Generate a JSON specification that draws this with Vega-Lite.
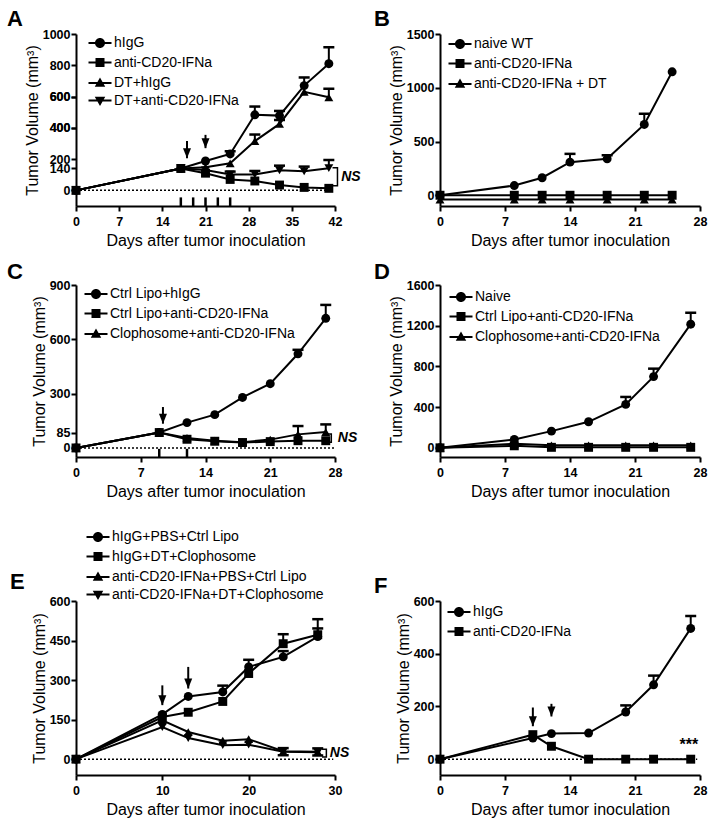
{
"$schema":"https://vega.github.io/schema/vega-lite/v6.json",
"background":"white",
"padding":{"left":7,"top":8,"right":5,"bottom":5},
"bounds":"flush",
"columns":2,
"spacing":{"row":79,"column":105},
"resolve":{"scale":{"shape":"independent","x":"independent","y":"independent"},"legend":{"shape":"independent"},"axis":{"x":"independent","y":"independent"}},
"config":{
 "font":"Liberation Sans",
 "view":{"stroke":null},
 "axis":{"domainColor":"black","domainWidth":2,"tickColor":"black","tickWidth":2,"tickSize":5,"labelFont":"Liberation Sans","labelFontWeight":"bold","labelFontSize":12.5,"labelColor":"black","labelOverlap":false,"labelFlush":false,"titleFont":"Liberation Sans","titleFontWeight":"normal","titleFontSize":16,"titleColor":"black","grid":false},
 "axisX":{"titlePadding":5,"labelPadding":4},
 "axisY":{"titlePadding":2,"labelPadding":1},
 "legend":{"orient":"none","labelFont":"Liberation Sans","labelFontSize":14,"labelColor":"black","labelOffset":7,"labelLimit":400,"rowPadding":1.5,"symbolSize":100,"symbolStrokeWidth":2,"symbolStrokeColor":"black","symbolFillColor":"black","padding":0},
 "title":{"fontSize":22,"fontWeight":"bold","anchor":"start","frame":"group","color":"black","font":"Liberation Sans","baseline":"alphabetic"}
},
"datasets":{
 "A":[
  {"g":"hIgG","day":0,"vol":0},{"g":"hIgG","day":17,"vol":140},{"g":"hIgG","day":21,"vol":188},{"g":"hIgG","day":25,"vol":233},{"g":"hIgG","day":29,"vol":483},{"g":"hIgG","day":33,"vol":478},{"g":"hIgG","day":37,"vol":670},{"g":"hIgG","day":41,"vol":810},
  {"g":"anti-CD20-IFNa","day":0,"vol":0},{"g":"anti-CD20-IFNa","day":17,"vol":140},{"g":"anti-CD20-IFNa","day":21,"vol":110},{"g":"anti-CD20-IFNa","day":25,"vol":70},{"g":"anti-CD20-IFNa","day":29,"vol":60},{"g":"anti-CD20-IFNa","day":33,"vol":34},{"g":"anti-CD20-IFNa","day":37,"vol":19},{"g":"anti-CD20-IFNa","day":41,"vol":13},
  {"g":"DT+hIgG","day":0,"vol":0},{"g":"DT+hIgG","day":17,"vol":140},{"g":"DT+hIgG","day":21,"vol":148},{"g":"DT+hIgG","day":25,"vol":173},{"g":"DT+hIgG","day":29,"vol":315},{"g":"DT+hIgG","day":33,"vol":425},{"g":"DT+hIgG","day":37,"vol":630},{"g":"DT+hIgG","day":41,"vol":595},
  {"g":"DT+anti-CD20-IFNa","day":0,"vol":0},{"g":"DT+anti-CD20-IFNa","day":17,"vol":140},{"g":"DT+anti-CD20-IFNa","day":21,"vol":130},{"g":"DT+anti-CD20-IFNa","day":25,"vol":102},{"g":"DT+anti-CD20-IFNa","day":29,"vol":102},{"g":"DT+anti-CD20-IFNa","day":33,"vol":128},{"g":"DT+anti-CD20-IFNa","day":37,"vol":122},{"g":"DT+anti-CD20-IFNa","day":41,"vol":142}
 ],
 "Aerr":[{"day":25,"vol":233,"vol2":250},{"day":29,"vol":483,"vol2":536},{"day":33,"vol":478,"vol2":508},{"day":37,"vol":670,"vol2":722},{"day":41,"vol":810,"vol2":915},{"day":29,"vol":315,"vol2":357},{"day":33,"vol":425,"vol2":450},{"day":41,"vol":595,"vol2":650},{"day":25,"vol":102,"vol2":120},{"day":29,"vol":102,"vol2":124},{"day":33,"vol":128,"vol2":158},{"day":37,"vol":122,"vol2":152},{"day":41,"vol":142,"vol2":194}],
 "Aarr":[{"day":18,"vol":315,"vol2":205},{"day":21,"vol":355,"vol2":270}],
 "Ainj":[{"day":17,"vol":-45,"vol2":-100},{"day":19,"vol":-45,"vol2":-100},{"day":21,"vol":-45,"vol2":-100},{"day":23,"vol":-45,"vol2":-100},{"day":25,"vol":-45,"vol2":-100}],
 "Abr":[{"day":41.6,"vol":145,"o":1},{"day":42.4,"vol":145,"o":2},{"day":42.4,"vol":30,"o":3},{"day":41.6,"vol":30,"o":4}],
 "Ans":[{"day":43.0,"vol":85,"t":"NS"}],
 "B":[
  {"g":"naive WT","day":0,"vol":0},{"g":"naive WT","day":8,"vol":90},{"g":"naive WT","day":11,"vol":163},{"g":"naive WT","day":14,"vol":308},{"g":"naive WT","day":18,"vol":339},{"g":"naive WT","day":22,"vol":659},{"g":"naive WT","day":25,"vol":1148},
  {"g":"anti-CD20-IFNa","day":0,"vol":0},{"g":"anti-CD20-IFNa","day":8,"vol":0},{"g":"anti-CD20-IFNa","day":11,"vol":0},{"g":"anti-CD20-IFNa","day":14,"vol":0},{"g":"anti-CD20-IFNa","day":18,"vol":0},{"g":"anti-CD20-IFNa","day":22,"vol":0},{"g":"anti-CD20-IFNa","day":25,"vol":0},
  {"g":"anti-CD20-IFNa + DT","day":0,"vol":-40},{"g":"anti-CD20-IFNa + DT","day":8,"vol":-40},{"g":"anti-CD20-IFNa + DT","day":11,"vol":-40},{"g":"anti-CD20-IFNa + DT","day":14,"vol":-40},{"g":"anti-CD20-IFNa + DT","day":18,"vol":-40},{"g":"anti-CD20-IFNa + DT","day":22,"vol":-40},{"g":"anti-CD20-IFNa + DT","day":25,"vol":-40}
 ],
 "Berr":[{"day":14,"vol":308,"vol2":385},{"day":18,"vol":339,"vol2":372},{"day":22,"vol":659,"vol2":758}],
 "C":[
  {"g":"Ctrl Lipo+hIgG","day":0,"vol":0},{"g":"Ctrl Lipo+hIgG","day":9,"vol":85},{"g":"Ctrl Lipo+hIgG","day":12,"vol":140},{"g":"Ctrl Lipo+hIgG","day":15,"vol":184},{"g":"Ctrl Lipo+hIgG","day":18,"vol":279},{"g":"Ctrl Lipo+hIgG","day":21,"vol":355},{"g":"Ctrl Lipo+hIgG","day":24,"vol":520},{"g":"Ctrl Lipo+hIgG","day":27,"vol":716},
  {"g":"Ctrl Lipo+anti-CD20-IFNa","day":0,"vol":0},{"g":"Ctrl Lipo+anti-CD20-IFNa","day":9,"vol":85},{"g":"Ctrl Lipo+anti-CD20-IFNa","day":12,"vol":48},{"g":"Ctrl Lipo+anti-CD20-IFNa","day":15,"vol":37},{"g":"Ctrl Lipo+anti-CD20-IFNa","day":18,"vol":30},{"g":"Ctrl Lipo+anti-CD20-IFNa","day":21,"vol":35},{"g":"Ctrl Lipo+anti-CD20-IFNa","day":24,"vol":40},{"g":"Ctrl Lipo+anti-CD20-IFNa","day":27,"vol":40},
  {"g":"Clophosome+anti-CD20-IFNa","day":0,"vol":0},{"g":"Clophosome+anti-CD20-IFNa","day":9,"vol":85},{"g":"Clophosome+anti-CD20-IFNa","day":12,"vol":55},{"g":"Clophosome+anti-CD20-IFNa","day":15,"vol":40},{"g":"Clophosome+anti-CD20-IFNa","day":18,"vol":32},{"g":"Clophosome+anti-CD20-IFNa","day":21,"vol":46},{"g":"Clophosome+anti-CD20-IFNa","day":24,"vol":75},{"g":"Clophosome+anti-CD20-IFNa","day":27,"vol":88}
 ],
 "Cerr":[{"day":24,"vol":520,"vol2":542},{"day":27,"vol":716,"vol2":790},{"day":24,"vol":75,"vol2":121},{"day":27,"vol":88,"vol2":130}],
 "Carr":[{"day":9.4,"vol":226,"vol2":134}],
 "Cinj":[{"day":9,"vol":-5,"vol2":-50},{"day":12,"vol":-5,"vol2":-50}],
 "Cbr":[{"day":27.1,"vol":77,"o":1},{"day":27.6,"vol":77,"o":2},{"day":27.6,"vol":31,"o":3},{"day":27.1,"vol":31,"o":4}],
 "Cns":[{"day":28.3,"vol":55,"t":"NS"}],
 "D":[
  {"g":"Naive","day":0,"vol":0},{"g":"Naive","day":8,"vol":82},{"g":"Naive","day":12,"vol":164},{"g":"Naive","day":16,"vol":256},{"g":"Naive","day":20,"vol":427},{"g":"Naive","day":23,"vol":700},{"g":"Naive","day":27,"vol":1215},
  {"g":"Ctrl Lipo+anti-CD20-IFNa","day":0,"vol":0},{"g":"Ctrl Lipo+anti-CD20-IFNa","day":8,"vol":20},{"g":"Ctrl Lipo+anti-CD20-IFNa","day":12,"vol":5},{"g":"Ctrl Lipo+anti-CD20-IFNa","day":16,"vol":5},{"g":"Ctrl Lipo+anti-CD20-IFNa","day":20,"vol":5},{"g":"Ctrl Lipo+anti-CD20-IFNa","day":23,"vol":5},{"g":"Ctrl Lipo+anti-CD20-IFNa","day":27,"vol":5},
  {"g":"Clophosome+anti-CD20-IFNa","day":0,"vol":0},{"g":"Clophosome+anti-CD20-IFNa","day":8,"vol":40},{"g":"Clophosome+anti-CD20-IFNa","day":12,"vol":25},{"g":"Clophosome+anti-CD20-IFNa","day":16,"vol":25},{"g":"Clophosome+anti-CD20-IFNa","day":20,"vol":25},{"g":"Clophosome+anti-CD20-IFNa","day":23,"vol":25},{"g":"Clophosome+anti-CD20-IFNa","day":27,"vol":25}
 ],
 "Derr":[{"day":20,"vol":427,"vol2":500},{"day":23,"vol":700,"vol2":778},{"day":27,"vol":1215,"vol2":1327}],
 "E":[
  {"g":"hIgG+PBS+Ctrl Lipo","day":0,"vol":0},{"g":"hIgG+PBS+Ctrl Lipo","day":10,"vol":170},{"g":"hIgG+PBS+Ctrl Lipo","day":13,"vol":238},{"g":"hIgG+PBS+Ctrl Lipo","day":17,"vol":255},{"g":"hIgG+PBS+Ctrl Lipo","day":20,"vol":350},{"g":"hIgG+PBS+Ctrl Lipo","day":24,"vol":388},{"g":"hIgG+PBS+Ctrl Lipo","day":28,"vol":465},
  {"g":"hIgG+DT+Clophosome","day":0,"vol":0},{"g":"hIgG+DT+Clophosome","day":10,"vol":160},{"g":"hIgG+DT+Clophosome","day":13,"vol":178},{"g":"hIgG+DT+Clophosome","day":17,"vol":219},{"g":"hIgG+DT+Clophosome","day":20,"vol":325},{"g":"hIgG+DT+Clophosome","day":24,"vol":438},{"g":"hIgG+DT+Clophosome","day":28,"vol":472},
  {"g":"anti-CD20-IFNa+PBS+Ctrl Lipo","day":0,"vol":0},{"g":"anti-CD20-IFNa+PBS+Ctrl Lipo","day":10,"vol":147},{"g":"anti-CD20-IFNa+PBS+Ctrl Lipo","day":13,"vol":103},{"g":"anti-CD20-IFNa+PBS+Ctrl Lipo","day":17,"vol":70},{"g":"anti-CD20-IFNa+PBS+Ctrl Lipo","day":20,"vol":76},{"g":"anti-CD20-IFNa+PBS+Ctrl Lipo","day":24,"vol":30},{"g":"anti-CD20-IFNa+PBS+Ctrl Lipo","day":28,"vol":28},
  {"g":"anti-CD20-IFNa+DT+Clophosome","day":0,"vol":0},{"g":"anti-CD20-IFNa+DT+Clophosome","day":10,"vol":122},{"g":"anti-CD20-IFNa+DT+Clophosome","day":13,"vol":80},{"g":"anti-CD20-IFNa+DT+Clophosome","day":17,"vol":53},{"g":"anti-CD20-IFNa+DT+Clophosome","day":20,"vol":55},{"g":"anti-CD20-IFNa+DT+Clophosome","day":24,"vol":28},{"g":"anti-CD20-IFNa+DT+Clophosome","day":28,"vol":26}
 ],
 "Eerr":[{"day":17,"vol":255,"vol2":279},{"day":20,"vol":350,"vol2":377},{"day":24,"vol":388,"vol2":410},{"day":28,"vol":465,"vol2":496},{"day":24,"vol":438,"vol2":474},{"day":28,"vol":472,"vol2":531},{"day":24,"vol":30,"vol2":42},{"day":24,"vol":28,"vol2":15},{"day":28,"vol":28,"vol2":41},{"day":28,"vol":26,"vol2":14}],
 "Earr":[{"day":10,"vol":280,"vol2":205},{"day":13,"vol":350,"vol2":268}],
 "Ebr":[{"day":28.5,"vol":38,"o":1},{"day":29,"vol":38,"o":2},{"day":29,"vol":8,"o":3},{"day":28.5,"vol":8,"o":4}],
 "Ens":[{"day":29.4,"vol":23,"t":"NS"}],
 "F":[
  {"g":"hIgG","day":0,"vol":0},{"g":"hIgG","day":10,"vol":80},{"g":"hIgG","day":12,"vol":97},{"g":"hIgG","day":16,"vol":99},{"g":"hIgG","day":20,"vol":179},{"g":"hIgG","day":23,"vol":282},{"g":"hIgG","day":27,"vol":496},
  {"g":"anti-CD20-IFNa","day":0,"vol":0},{"g":"anti-CD20-IFNa","day":10,"vol":93},{"g":"anti-CD20-IFNa","day":12,"vol":49},{"g":"anti-CD20-IFNa","day":16,"vol":0},{"g":"anti-CD20-IFNa","day":20,"vol":0},{"g":"anti-CD20-IFNa","day":23,"vol":0},{"g":"anti-CD20-IFNa","day":27,"vol":0}
 ],
 "Ferr":[{"day":20,"vol":179,"vol2":204},{"day":23,"vol":282,"vol2":317},{"day":27,"vol":496,"vol2":543}],
 "Farr":[{"day":10,"vol":196,"vol2":125},{"day":12,"vol":210,"vol2":162}],
 "Fns":[{"day":26.8,"vol":52,"t":"***"}]
},
"concat":[
  {"width":259,"height":172,
   "title":{"text":"A","dx":-69,"offset":-3},
   "resolve":{"axis":{"y":"independent"}},
   "layer":[
    {"data":{"name":"A"},"mark":{"type":"line","color":"black","strokeWidth":2},"encoding":{
      "x":{"field":"day","type":"quantitative","scale":{"domain":[0,42],"nice":false,"zero":false},"axis":{"values":[0,7,14,21,28,35,42],"format":"d","labelOverlap":false,"title":"Days after tumor inoculation"}},
      "y":{"field":"vol","type":"quantitative","scale":{"domain":[-100,1000],"nice":false,"zero":false},"axis":{"values":[0,200,400,600,800,1000],"format":"d","labelOverlap":false,"title":"Tumor Volume (mm³)"}},
      "detail":{"field":"g"}}},
    {"data":{"name":"A"},"transform":[{"filter":"false"}],"mark":{"type":"point","opacity":0},"encoding":{"x":{"field":"day","type":"quantitative"},"y":{"field":"vol","type":"quantitative","axis":{"values":[140,400,600],"orient":"left","domain":false,"format":"d","labelOverlap":false,"title":null}}}},
    {"data":{"values":[{"day":0,"day2":41,"vol":0}]},"mark":{"type":"rule","strokeDash":[2,2],"strokeWidth":1.5,"color":"black"},"encoding":{"x":{"field":"day","type":"quantitative"},"x2":{"field":"day2"},"y":{"field":"vol","type":"quantitative","axis":null}}},
    {"data":{"name":"Aerr"},"mark":{"type":"rule","color":"black","strokeWidth":2},"encoding":{"x":{"field":"day","type":"quantitative"},"y":{"field":"vol","type":"quantitative","axis":null},"y2":{"field":"vol2"}}},
    {"data":{"name":"Aerr"},"mark":{"type":"tick","orient":"horizontal","size":11,"thickness":2.5,"color":"black","opacity":1},"encoding":{"x":{"field":"day","type":"quantitative"},"y":{"field":"vol2","type":"quantitative","axis":null}}},
    {"data":{"name":"A"},"transform":[{"filter":"datum.g == 'hIgG'"}],"mark":{"type":"point","shape":"circle","filled":true,"size":80,"color":"black","opacity":1},"encoding":{"x":{"field":"day","type":"quantitative"},"y":{"field":"vol","type":"quantitative","axis":null}}},
    {"data":{"name":"A"},"transform":[{"filter":"datum.g == 'anti-CD20-IFNa'"}],"mark":{"type":"point","shape":"square","filled":true,"size":80,"color":"black","opacity":1},"encoding":{"x":{"field":"day","type":"quantitative"},"y":{"field":"vol","type":"quantitative","axis":null}}},
    {"data":{"name":"A"},"transform":[{"filter":"datum.g == 'DT+hIgG'"}],"mark":{"type":"point","shape":"triangle-up","filled":true,"size":80,"color":"black","opacity":1},"encoding":{"x":{"field":"day","type":"quantitative"},"y":{"field":"vol","type":"quantitative","axis":null}}},
    {"data":{"name":"A"},"transform":[{"filter":"datum.g == 'DT+anti-CD20-IFNa'"}],"mark":{"type":"point","shape":"triangle-down","filled":true,"size":80,"color":"black","opacity":1},"encoding":{"x":{"field":"day","type":"quantitative"},"y":{"field":"vol","type":"quantitative","axis":null}}},
    {"data":{"name":"A"},"transform":[{"filter":"false"}],"mark":{"type":"point","filled":true,"color":"black","stroke":"black","strokeWidth":2,"opacity":1},"encoding":{"x":{"field":"day","type":"quantitative"},"y":{"field":"vol","type":"quantitative","axis":null},
      "shape":{"field":"g","type":"nominal","scale":{"domain":["hIgG","anti-CD20-IFNa","DT+hIgG","DT+anti-CD20-IFNa"],"range":["M-2.3,-0.2H2.3V0.2H-2.3ZM-1,0A1,1,0,1,1,1,0A1,1,0,1,1,-1,0Z","M-2.3,-0.2H2.3V0.2H-2.3ZM-0.9,-0.9H0.9V0.9H-0.9Z","M-2.3,-0.2H2.3V0.2H-2.3ZM0,-1.1L1.05,0.75L-1.05,0.75Z","M-2.3,-0.2H2.3V0.2H-2.3ZM0,1.1L-1.05,-0.75L1.05,-0.75Z"]},
       "legend":{"title":null,"legendX":17,"legendY":2}}}},
    {"data":{"name":"Aarr"},"mark":{"type":"rule","color":"black","strokeWidth":2},"encoding":{"x":{"field":"day","type":"quantitative"},"y":{"field":"vol","type":"quantitative","axis":null},"y2":{"field":"vol2"}}},
    {"data":{"name":"Aarr"},"mark":{"type":"point","shape":"M-1,-2.5L1,-2.5L0,0Z","filled":true,"size":64,"color":"black","opacity":1},"encoding":{"x":{"field":"day","type":"quantitative"},"y":{"field":"vol2","type":"quantitative","axis":null}}},
    {"data":{"name":"Ainj"},"mark":{"type":"rule","color":"black","strokeWidth":2.5},"encoding":{"x":{"field":"day","type":"quantitative"},"y":{"field":"vol","type":"quantitative","axis":null},"y2":{"field":"vol2"}}},
    {"data":{"name":"Abr"},"mark":{"type":"line","color":"black","strokeWidth":1.5},"encoding":{"x":{"field":"day","type":"quantitative"},"y":{"field":"vol","type":"quantitative","axis":null},"order":{"field":"o"}}},
    {"data":{"name":"Ans"},"mark":{"type":"text","fontWeight":"bold","fontStyle":"italic","fontSize":14,"align":"left","baseline":"middle","color":"black"},"encoding":{"x":{"field":"day","type":"quantitative"},"y":{"field":"vol","type":"quantitative","axis":null},"text":{"field":"t"}}}
   ]},
  {"width":260,"height":172,
   "title":{"text":"B","dx":-66,"offset":-3},
   "layer":[
    {"data":{"name":"B"},"mark":{"type":"line","color":"black","strokeWidth":2},"encoding":{
      "x":{"field":"day","type":"quantitative","scale":{"domain":[0,28],"nice":false,"zero":false},"axis":{"values":[0,7,14,21,28],"format":"d","labelOverlap":false,"title":"Days after tumor inoculation"}},
      "y":{"field":"vol","type":"quantitative","scale":{"domain":[-100,1500],"nice":false,"zero":false},"axis":{"values":[0,500,1000,1500],"format":"d","labelOverlap":false,"title":"Tumor Volume (mm³)"}},
      "detail":{"field":"g"}}},
    {"data":{"name":"Berr"},"mark":{"type":"rule","color":"black","strokeWidth":2},"encoding":{"x":{"field":"day","type":"quantitative"},"y":{"field":"vol","type":"quantitative"},"y2":{"field":"vol2"}}},
    {"data":{"name":"Berr"},"mark":{"type":"tick","orient":"horizontal","size":11,"thickness":2.5,"color":"black","opacity":1},"encoding":{"x":{"field":"day","type":"quantitative"},"y":{"field":"vol2","type":"quantitative"}}},
    {"data":{"name":"B"},"transform":[{"filter":"datum.g == 'naive WT'"}],"mark":{"type":"point","shape":"circle","filled":true,"size":80,"color":"black","opacity":1},"encoding":{"x":{"field":"day","type":"quantitative"},"y":{"field":"vol","type":"quantitative"}}},
    {"data":{"name":"B"},"transform":[{"filter":"datum.g == 'anti-CD20-IFNa'"}],"mark":{"type":"point","shape":"square","filled":true,"size":80,"color":"black","opacity":1},"encoding":{"x":{"field":"day","type":"quantitative"},"y":{"field":"vol","type":"quantitative"}}},
    {"data":{"name":"B"},"transform":[{"filter":"datum.g == 'anti-CD20-IFNa + DT'"}],"mark":{"type":"point","shape":"triangle-up","filled":true,"size":80,"color":"black","opacity":1},"encoding":{"x":{"field":"day","type":"quantitative"},"y":{"field":"vol","type":"quantitative"}}},
    {"data":{"name":"B"},"transform":[{"filter":"false"}],"mark":{"type":"point","filled":true,"color":"black","stroke":"black","strokeWidth":2,"opacity":1},"encoding":{"x":{"field":"day","type":"quantitative"},"y":{"field":"vol","type":"quantitative"},
      "shape":{"field":"g","type":"nominal","scale":{"domain":["naive WT","anti-CD20-IFNa","anti-CD20-IFNa + DT"],"range":["M-2.3,-0.2H2.3V0.2H-2.3ZM-1,0A1,1,0,1,1,1,0A1,1,0,1,1,-1,0Z","M-2.3,-0.2H2.3V0.2H-2.3ZM-0.9,-0.9H0.9V0.9H-0.9Z","M-2.3,-0.2H2.3V0.2H-2.3ZM0,-1.1L1.05,0.75L-1.05,0.75Z"]},
       "legend":{"title":null,"legendX":13,"legendY":3}}}}
   ]},
  {"width":259,"height":172,
   "title":{"text":"C","dx":-69,"offset":-5},
   "layer":[
    {"data":{"name":"C"},"mark":{"type":"line","color":"black","strokeWidth":2},"encoding":{
      "x":{"field":"day","type":"quantitative","scale":{"domain":[0,28],"nice":false,"zero":false},"axis":{"values":[0,7,14,21,28],"format":"d","labelOverlap":false,"title":"Days after tumor inoculation"}},
      "y":{"field":"vol","type":"quantitative","scale":{"domain":[-50,900],"nice":false,"zero":false},"axis":{"values":[0,85,300,600,900],"format":"d","labelOverlap":false,"title":"Tumor Volume (mm³)"}},
      "detail":{"field":"g"}}},
    {"data":{"values":[{"day":0,"day2":28,"vol":0}]},"mark":{"type":"rule","strokeDash":[2,2],"strokeWidth":1.5,"color":"black"},"encoding":{"x":{"field":"day","type":"quantitative"},"x2":{"field":"day2"},"y":{"field":"vol","type":"quantitative"}}},
    {"data":{"name":"Cerr"},"mark":{"type":"rule","color":"black","strokeWidth":2},"encoding":{"x":{"field":"day","type":"quantitative"},"y":{"field":"vol","type":"quantitative"},"y2":{"field":"vol2"}}},
    {"data":{"name":"Cerr"},"mark":{"type":"tick","orient":"horizontal","size":11,"thickness":2.5,"color":"black","opacity":1},"encoding":{"x":{"field":"day","type":"quantitative"},"y":{"field":"vol2","type":"quantitative"}}},
    {"data":{"name":"C"},"transform":[{"filter":"datum.g == 'Ctrl Lipo+hIgG'"}],"mark":{"type":"point","shape":"circle","filled":true,"size":80,"color":"black","opacity":1},"encoding":{"x":{"field":"day","type":"quantitative"},"y":{"field":"vol","type":"quantitative"}}},
    {"data":{"name":"C"},"transform":[{"filter":"datum.g == 'Ctrl Lipo+anti-CD20-IFNa'"}],"mark":{"type":"point","shape":"square","filled":true,"size":80,"color":"black","opacity":1},"encoding":{"x":{"field":"day","type":"quantitative"},"y":{"field":"vol","type":"quantitative"}}},
    {"data":{"name":"C"},"transform":[{"filter":"datum.g == 'Clophosome+anti-CD20-IFNa'"}],"mark":{"type":"point","shape":"triangle-up","filled":true,"size":80,"color":"black","opacity":1},"encoding":{"x":{"field":"day","type":"quantitative"},"y":{"field":"vol","type":"quantitative"}}},
    {"data":{"name":"C"},"transform":[{"filter":"false"}],"mark":{"type":"point","filled":true,"color":"black","stroke":"black","strokeWidth":2,"opacity":1},"encoding":{"x":{"field":"day","type":"quantitative"},"y":{"field":"vol","type":"quantitative"},
      "shape":{"field":"g","type":"nominal","scale":{"domain":["Ctrl Lipo+hIgG","Ctrl Lipo+anti-CD20-IFNa","Clophosome+anti-CD20-IFNa"],"range":["M-2.3,-0.2H2.3V0.2H-2.3ZM-1,0A1,1,0,1,1,1,0A1,1,0,1,1,-1,0Z","M-2.3,-0.2H2.3V0.2H-2.3ZM-0.9,-0.9H0.9V0.9H-0.9Z","M-2.3,-0.2H2.3V0.2H-2.3ZM0,-1.1L1.05,0.75L-1.05,0.75Z"]},
       "legend":{"title":null,"legendX":13,"legendY":2}}}},
    {"data":{"name":"Carr"},"mark":{"type":"rule","color":"black","strokeWidth":2},"encoding":{"x":{"field":"day","type":"quantitative"},"y":{"field":"vol","type":"quantitative"},"y2":{"field":"vol2"}}},
    {"data":{"name":"Carr"},"mark":{"type":"point","shape":"M-1,-2.5L1,-2.5L0,0Z","filled":true,"size":64,"color":"black","opacity":1},"encoding":{"x":{"field":"day","type":"quantitative"},"y":{"field":"vol2","type":"quantitative"}}},
    {"data":{"name":"Cinj"},"mark":{"type":"rule","color":"black","strokeWidth":2.5},"encoding":{"x":{"field":"day","type":"quantitative"},"y":{"field":"vol","type":"quantitative"},"y2":{"field":"vol2"}}},
    {"data":{"name":"Cbr"},"mark":{"type":"line","color":"black","strokeWidth":1.5},"encoding":{"x":{"field":"day","type":"quantitative"},"y":{"field":"vol","type":"quantitative"},"order":{"field":"o"}}},
    {"data":{"name":"Cns"},"mark":{"type":"text","fontWeight":"bold","fontStyle":"italic","fontSize":14,"align":"left","baseline":"middle","color":"black"},"encoding":{"x":{"field":"day","type":"quantitative"},"y":{"field":"vol","type":"quantitative"},"text":{"field":"t"}}}
   ]},
  {"width":260,"height":172,
   "title":{"text":"D","dx":-66,"offset":-5},
   "layer":[
    {"data":{"name":"D"},"mark":{"type":"line","color":"black","strokeWidth":2},"encoding":{
      "x":{"field":"day","type":"quantitative","scale":{"domain":[0,28],"nice":false,"zero":false},"axis":{"values":[0,7,14,21,28],"format":"d","labelOverlap":false,"title":"Days after tumor inoculation"}},
      "y":{"field":"vol","type":"quantitative","scale":{"domain":[-90,1600],"nice":false,"zero":false},"axis":{"values":[0,400,800,1200,1600],"format":"d","labelOverlap":false,"title":"Tumor Volume (mm³)"}},
      "detail":{"field":"g"}}},
    {"data":{"name":"Derr"},"mark":{"type":"rule","color":"black","strokeWidth":2},"encoding":{"x":{"field":"day","type":"quantitative"},"y":{"field":"vol","type":"quantitative"},"y2":{"field":"vol2"}}},
    {"data":{"name":"Derr"},"mark":{"type":"tick","orient":"horizontal","size":11,"thickness":2.5,"color":"black","opacity":1},"encoding":{"x":{"field":"day","type":"quantitative"},"y":{"field":"vol2","type":"quantitative"}}},
    {"data":{"name":"D"},"transform":[{"filter":"datum.g == 'Naive'"}],"mark":{"type":"point","shape":"circle","filled":true,"size":80,"color":"black","opacity":1},"encoding":{"x":{"field":"day","type":"quantitative"},"y":{"field":"vol","type":"quantitative"}}},
    {"data":{"name":"D"},"transform":[{"filter":"datum.g == 'Ctrl Lipo+anti-CD20-IFNa'"}],"mark":{"type":"point","shape":"square","filled":true,"size":80,"color":"black","opacity":1},"encoding":{"x":{"field":"day","type":"quantitative"},"y":{"field":"vol","type":"quantitative"}}},
    {"data":{"name":"D"},"transform":[{"filter":"datum.g == 'Clophosome+anti-CD20-IFNa'"}],"mark":{"type":"point","shape":"triangle-up","filled":true,"size":80,"color":"black","opacity":1},"encoding":{"x":{"field":"day","type":"quantitative"},"y":{"field":"vol","type":"quantitative"}}},
    {"data":{"name":"D"},"transform":[{"filter":"false"}],"mark":{"type":"point","filled":true,"color":"black","stroke":"black","strokeWidth":2,"opacity":1},"encoding":{"x":{"field":"day","type":"quantitative"},"y":{"field":"vol","type":"quantitative"},
      "shape":{"field":"g","type":"nominal","scale":{"domain":["Naive","Ctrl Lipo+anti-CD20-IFNa","Clophosome+anti-CD20-IFNa"],"range":["M-2.3,-0.2H2.3V0.2H-2.3ZM-1,0A1,1,0,1,1,1,0A1,1,0,1,1,-1,0Z","M-2.3,-0.2H2.3V0.2H-2.3ZM-0.9,-0.9H0.9V0.9H-0.9Z","M-2.3,-0.2H2.3V0.2H-2.3ZM0,-1.1L1.05,0.75L-1.05,0.75Z"]},
       "legend":{"title":null,"legendX":14,"legendY":5}}}}
   ]},
  {"width":259,"height":239,
   "title":{"text":"E","dx":-66,"offset":-64},
   "layer":[
    {"data":{"name":"E"},"mark":{"type":"line","color":"black","strokeWidth":2},"encoding":{
      "x":{"field":"day","type":"quantitative","scale":{"domain":[0,30],"nice":false,"zero":false},"axis":{"values":[0,10,20,30],"format":"d","labelOverlap":false,"title":"Days after tumor inoculation"}},
      "y":{"field":"vol","type":"quantitative","scale":{"domain":[-60,600],"nice":false,"zero":false,"range":[239,65]},"axis":{"values":[0,150,300,450,600],"format":"d","labelOverlap":false,"title":"Tumor Volume (mm³)"}},
      "detail":{"field":"g"}}},
    {"data":{"values":[{"day":0,"day2":29.8,"vol":0}]},"mark":{"type":"rule","strokeDash":[2,2],"strokeWidth":1.5,"color":"black"},"encoding":{"x":{"field":"day","type":"quantitative"},"x2":{"field":"day2"},"y":{"field":"vol","type":"quantitative"}}},
    {"data":{"name":"Eerr"},"mark":{"type":"rule","color":"black","strokeWidth":2},"encoding":{"x":{"field":"day","type":"quantitative"},"y":{"field":"vol","type":"quantitative"},"y2":{"field":"vol2"}}},
    {"data":{"name":"Eerr"},"mark":{"type":"tick","orient":"horizontal","size":11,"thickness":2.5,"color":"black","opacity":1},"encoding":{"x":{"field":"day","type":"quantitative"},"y":{"field":"vol2","type":"quantitative"}}},
    {"data":{"name":"E"},"transform":[{"filter":"datum.g == 'hIgG+PBS+Ctrl Lipo'"}],"mark":{"type":"point","shape":"circle","filled":true,"size":80,"color":"black","opacity":1},"encoding":{"x":{"field":"day","type":"quantitative"},"y":{"field":"vol","type":"quantitative"}}},
    {"data":{"name":"E"},"transform":[{"filter":"datum.g == 'hIgG+DT+Clophosome'"}],"mark":{"type":"point","shape":"square","filled":true,"size":80,"color":"black","opacity":1},"encoding":{"x":{"field":"day","type":"quantitative"},"y":{"field":"vol","type":"quantitative"}}},
    {"data":{"name":"E"},"transform":[{"filter":"datum.g == 'anti-CD20-IFNa+PBS+Ctrl Lipo'"}],"mark":{"type":"point","shape":"triangle-up","filled":true,"size":80,"color":"black","opacity":1},"encoding":{"x":{"field":"day","type":"quantitative"},"y":{"field":"vol","type":"quantitative"}}},
    {"data":{"name":"E"},"transform":[{"filter":"datum.g == 'anti-CD20-IFNa+DT+Clophosome'"}],"mark":{"type":"point","shape":"triangle-down","filled":true,"size":80,"color":"black","opacity":1},"encoding":{"x":{"field":"day","type":"quantitative"},"y":{"field":"vol","type":"quantitative"}}},
    {"data":{"name":"E"},"transform":[{"filter":"false"}],"mark":{"type":"point","filled":true,"color":"black","stroke":"black","strokeWidth":2,"opacity":1},"encoding":{"x":{"field":"day","type":"quantitative"},"y":{"field":"vol","type":"quantitative"},
      "shape":{"field":"g","type":"nominal","scale":{"domain":["hIgG+PBS+Ctrl Lipo","hIgG+DT+Clophosome","anti-CD20-IFNa+PBS+Ctrl Lipo","anti-CD20-IFNa+DT+Clophosome"],"range":["M-2.3,-0.2H2.3V0.2H-2.3ZM-1,0A1,1,0,1,1,1,0A1,1,0,1,1,-1,0Z","M-2.3,-0.2H2.3V0.2H-2.3ZM-0.9,-0.9H0.9V0.9H-0.9Z","M-2.3,-0.2H2.3V0.2H-2.3ZM0,-1.1L1.05,0.75L-1.05,0.75Z","M-2.3,-0.2H2.3V0.2H-2.3ZM0,1.1L-1.05,-0.75L1.05,-0.75Z"]},
       "legend":{"title":null,"legendX":15,"legendY":-6}}}},
    {"data":{"name":"Earr"},"mark":{"type":"rule","color":"black","strokeWidth":2},"encoding":{"x":{"field":"day","type":"quantitative"},"y":{"field":"vol","type":"quantitative"},"y2":{"field":"vol2"}}},
    {"data":{"name":"Earr"},"mark":{"type":"point","shape":"M-1,-2.5L1,-2.5L0,0Z","filled":true,"size":64,"color":"black","opacity":1},"encoding":{"x":{"field":"day","type":"quantitative"},"y":{"field":"vol2","type":"quantitative"}}},
    {"data":{"name":"Ebr"},"mark":{"type":"line","color":"black","strokeWidth":1.5},"encoding":{"x":{"field":"day","type":"quantitative"},"y":{"field":"vol","type":"quantitative"},"order":{"field":"o"}}},
    {"data":{"name":"Ens"},"mark":{"type":"text","fontWeight":"bold","fontStyle":"italic","fontSize":14,"align":"left","baseline":"middle","color":"black"},"encoding":{"x":{"field":"day","type":"quantitative"},"y":{"field":"vol","type":"quantitative"},"text":{"field":"t"}}}
   ]},
  {"width":260,"height":239,
   "title":{"text":"F","dx":-66,"offset":-62},
   "layer":[
    {"data":{"name":"F"},"mark":{"type":"line","color":"black","strokeWidth":2},"encoding":{
      "x":{"field":"day","type":"quantitative","scale":{"domain":[0,28],"nice":false,"zero":false},"axis":{"values":[0,7,14,21,28],"format":"d","labelOverlap":false,"title":"Days after tumor inoculation"}},
      "y":{"field":"vol","type":"quantitative","scale":{"domain":[-60,600],"nice":false,"zero":false,"range":[239,65]},"axis":{"values":[0,200,400,600],"format":"d","labelOverlap":false,"title":"Tumor Volume (mm³)"}},
      "detail":{"field":"g"}}},
    {"data":{"values":[{"day":0,"day2":27.7,"vol":0}]},"mark":{"type":"rule","strokeDash":[2,2],"strokeWidth":1.5,"color":"black"},"encoding":{"x":{"field":"day","type":"quantitative"},"x2":{"field":"day2"},"y":{"field":"vol","type":"quantitative"}}},
    {"data":{"name":"Ferr"},"mark":{"type":"rule","color":"black","strokeWidth":2},"encoding":{"x":{"field":"day","type":"quantitative"},"y":{"field":"vol","type":"quantitative"},"y2":{"field":"vol2"}}},
    {"data":{"name":"Ferr"},"mark":{"type":"tick","orient":"horizontal","size":11,"thickness":2.5,"color":"black","opacity":1},"encoding":{"x":{"field":"day","type":"quantitative"},"y":{"field":"vol2","type":"quantitative"}}},
    {"data":{"name":"F"},"transform":[{"filter":"datum.g == 'hIgG'"}],"mark":{"type":"point","shape":"circle","filled":true,"size":80,"color":"black","opacity":1},"encoding":{"x":{"field":"day","type":"quantitative"},"y":{"field":"vol","type":"quantitative"}}},
    {"data":{"name":"F"},"transform":[{"filter":"datum.g == 'anti-CD20-IFNa'"}],"mark":{"type":"point","shape":"square","filled":true,"size":80,"color":"black","opacity":1},"encoding":{"x":{"field":"day","type":"quantitative"},"y":{"field":"vol","type":"quantitative"}}},
    {"data":{"name":"F"},"transform":[{"filter":"false"}],"mark":{"type":"point","filled":true,"color":"black","stroke":"black","strokeWidth":2,"opacity":1},"encoding":{"x":{"field":"day","type":"quantitative"},"y":{"field":"vol","type":"quantitative"},
      "shape":{"field":"g","type":"nominal","scale":{"domain":["hIgG","anti-CD20-IFNa"],"range":["M-2.3,-0.2H2.3V0.2H-2.3ZM-1,0A1,1,0,1,1,1,0A1,1,0,1,1,-1,0Z","M-2.3,-0.2H2.3V0.2H-2.3ZM-0.9,-0.9H0.9V0.9H-0.9Z"]},
       "legend":{"title":null,"legendX":12,"legendY":69}}}},
    {"data":{"name":"Farr"},"mark":{"type":"rule","color":"black","strokeWidth":2},"encoding":{"x":{"field":"day","type":"quantitative"},"y":{"field":"vol","type":"quantitative"},"y2":{"field":"vol2"}}},
    {"data":{"name":"Farr"},"mark":{"type":"point","shape":"M-1,-2.5L1,-2.5L0,0Z","filled":true,"size":64,"color":"black","opacity":1},"encoding":{"x":{"field":"day","type":"quantitative"},"y":{"field":"vol2","type":"quantitative"}}},
    {"data":{"name":"Fns"},"mark":{"type":"text","fontWeight":"bold","fontSize":16,"align":"center","baseline":"middle","color":"black"},"encoding":{"x":{"field":"day","type":"quantitative"},"y":{"field":"vol","type":"quantitative"},"text":{"field":"t"}}}
   ]}
]
}
